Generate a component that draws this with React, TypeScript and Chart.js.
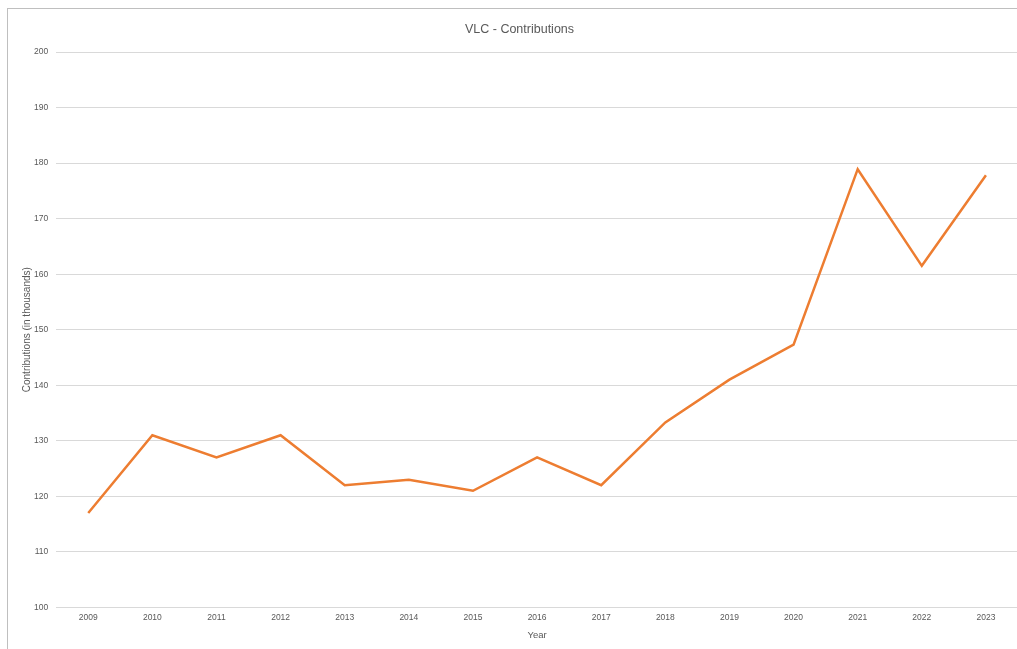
import React, { useEffect, useRef } from "react";
import { Chart, registerables } from "chart.js";

Chart.register(...registerables);

const years = ["2009", "2010", "2011", "2012", "2013", "2014", "2015", "2016", "2017", "2018", "2019", "2020", "2021", "2022", "2023"];
const contributions = [117, 131, 127, 131, 122, 123, 121, 127, 122, 133.3, 141, 147.3, 178.9, 161.5, 177.8];

const FONT = "'Liberation Sans', sans-serif";

export default function App() {
  const ref = useRef<HTMLCanvasElement | null>(null);
  useEffect(() => {
    if (!ref.current) return;
    const chart = new Chart(ref.current, {
      type: "line",
      data: {
        labels: years,
        datasets: [
          {
            label: "Contributions",
            data: contributions,
            borderColor: "#ED7D31",
            backgroundColor: "#ED7D31",
            borderWidth: 2.5,
            pointRadius: 0,
            tension: 0,
          },
        ],
      },
      options: {
        animation: false,
        responsive: false,
        maintainAspectRatio: false,
        layout: { padding: { left: 13, right: 0, top: 4, bottom: 9 } },
        plugins: {
          legend: { display: false },
          tooltip: { enabled: false },
          title: {
            display: true,
            text: "VLC - Contributions",
            color: "#595959",
            font: { family: FONT, size: 12.5, weight: "normal" },
            padding: { top: 9, bottom: 15 },
          },
        },
        scales: {
          x: {
            offset: true,
            grid: { display: false, drawTicks: false },
            border: { display: false },
            ticks: { color: "#595959", font: { family: FONT, size: 8.5 }, padding: 5, maxRotation: 0 },
            title: { display: true, text: "Year", color: "#595959", font: { family: FONT, size: 9.5 }, padding: { top: 2, bottom: 0 } },
          },
          y: {
            min: 100,
            max: 200,
            ticks: { stepSize: 10, color: "#595959", font: { family: FONT, size: 8.5 }, padding: 8 },
            grid: { color: "#d9d9d9", drawTicks: false, lineWidth: 1 },
            border: { display: false },
            title: { display: true, text: "Contributions (in thousands)", color: "#595959", font: { family: FONT, size: 10 }, padding: { top: 0, bottom: -7 } },
          },
        },
      },
    });
    return () => chart.destroy();
  }, []);
  return (
    <div style={{ position: "absolute", left: 7, top: 8, width: 1030, height: 660, border: "1px solid #bfbfbf", background: "#fff" }}>
      <canvas ref={ref} width={1010} height={641} style={{ display: "block" }} />
    </div>
  );
}
